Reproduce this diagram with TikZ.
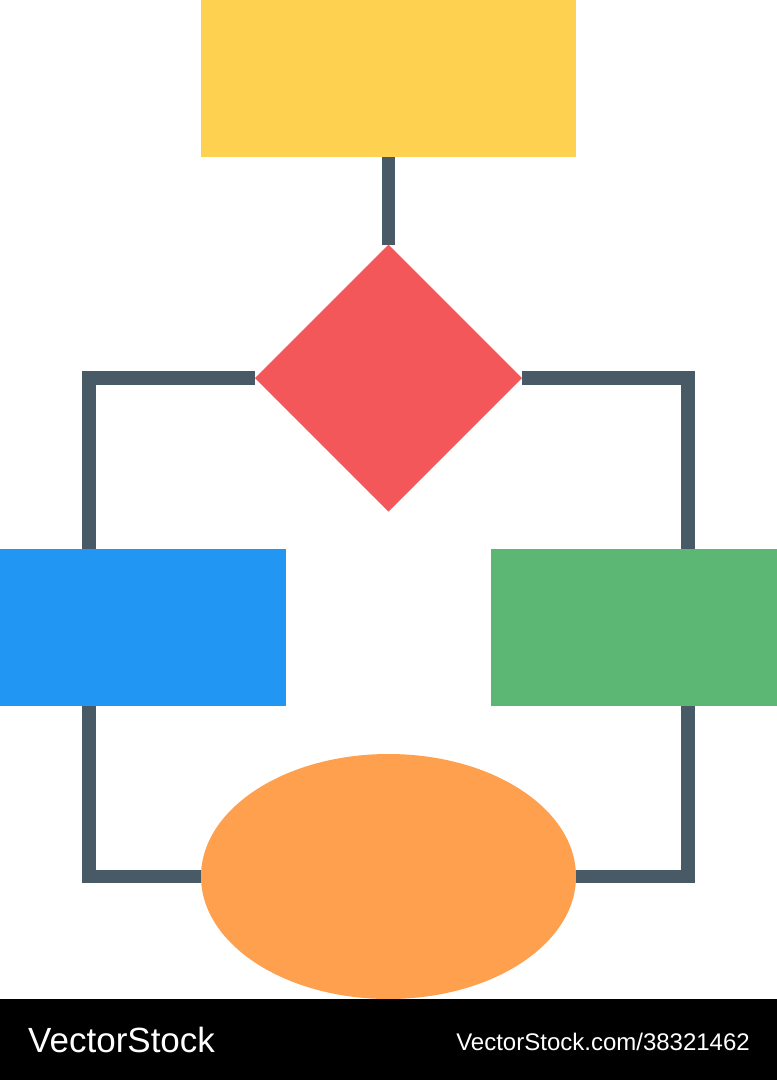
\documentclass[tikz,border=0pt]{standalone}
\usepackage{fontspec}
\newfontfamily\wmfont{Liberation Sans}
\usetikzlibrary{shapes.geometric,backgrounds}
\definecolor{cyellow}{HTML}{FED250}
\definecolor{cred}{HTML}{F4575A}
\definecolor{cblue}{HTML}{2196F3}
\definecolor{cgreen}{HTML}{5DB774}
\definecolor{corange}{HTML}{FFA04F}
\definecolor{cline}{HTML}{475A65}
\tikzset{
  shapebox/.style={inner sep=0pt, outer sep=0pt, draw=none},
  conn/.style={draw=cline, line width=13.5pt, line join=miter},
  wmtext/.style={text=white, inner sep=0pt, font=\wmfont}
}
\begin{document}
\begin{tikzpicture}[x=1pt,y=-1pt]
\useasboundingbox (0,0) rectangle (777,1080);
\node[shapebox, fill=cyellow, rectangle, minimum width=375pt, minimum height=157pt] (top) at (388.5,78.5) {};
\node[shapebox, fill=cred, diamond, minimum width=267pt, minimum height=267pt] (dia) at (388.5,378) {};
\node[shapebox, fill=cblue, rectangle, minimum width=286pt, minimum height=157pt] (blue) at (143,627.5) {};
\node[shapebox, fill=cgreen, rectangle, minimum width=286pt, minimum height=157pt] (green) at (634,627.5) {};
\node[shapebox, fill=corange, ellipse, minimum width=375pt, minimum height=245pt] (ell) at (388.5,876.5) {};
\coordinate (lt) at (89,378);
\coordinate (lb) at (89,876.5);
\coordinate (rt) at (688,378);
\coordinate (rb) at (688,876.5);
\begin{scope}[on background layer]
\fill[white] (0,0) rectangle (777,1080);
\draw[conn] (top.south) -- (dia.north);
\draw[conn] (dia.west) -- (lt) -- (lb) -- (ell.west);
\draw[conn] (dia.east) -- (rt) -- (rb) -- (ell.east);
\end{scope}
\fill[black] (0,999) rectangle (777,1080);
\node[wmtext, anchor=base west, font=\wmfont\fontsize{35}{40}\selectfont] (wm1) at (28,1052) {VectorStock};
\node[wmtext, anchor=base east, font=\wmfont\fontsize{24}{28}\selectfont] (wm2) at (750,1050) {VectorStock.com/38321462};
\end{tikzpicture}
\end{document}
